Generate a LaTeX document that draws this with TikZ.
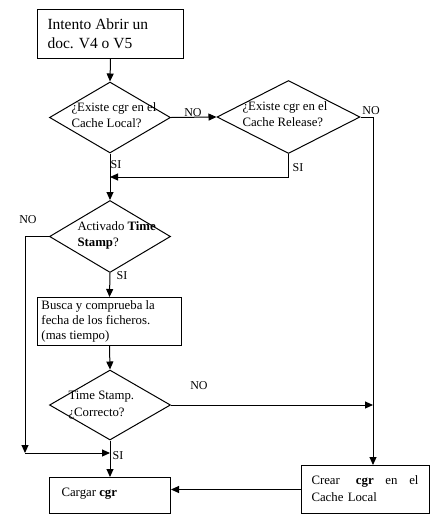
\documentclass[tikz,border=0pt]{standalone}
\usepackage{fontspec}
\setmainfont{Liberation Serif}
\usetikzlibrary{shapes.geometric,arrows.meta}
\begin{document}
\begin{tikzpicture}[x=1pt,y=-1pt,line width=1pt,
  box/.style={draw,rectangle,inner sep=0pt,anchor=north west},
  dia/.style={draw,diamond,inner sep=0pt,minimum width=121pt,minimum height=71pt},
  txt/.style={font=\fontsize{12.8}{16}\selectfont,align=left,inner sep=0pt},
  lab/.style={font=\fontsize{12}{14}\selectfont,inner sep=0pt},
  arr/.style={-{Triangle[length=8pt,width=7pt]}}]
\useasboundingbox (0,0) rectangle (438,520);
% boxes
\node[box,minimum width=146pt,minimum height=49pt] (b1) at (37,9) {};
\node[txt,font=\fontsize{15.5}{19}\selectfont,anchor=west] (t1) at (47,33.5) {Intento Abrir un\\doc. V4 o V5};
\node[dia] (d1) at (110,117.5) {};
\node[txt,anchor=west] (t2) at (71,115) {¿Existe cgr en el\\Cache Local?};
\node[dia,minimum width=143pt,minimum height=73pt] (d2) at (288.5,117) {};
\node[txt,anchor=west] (t3) at (242,114) {¿Existe cgr en el\\Cache Release?};
\node[dia,minimum width=121pt,minimum height=72pt] (d3) at (110,236.5) {};
\node[txt,anchor=west] (t4) at (77,235.5) {Activado \textbf{Time}\\\textbf{Stamp}?};
\node[box,minimum width=144pt,minimum height=48pt] (b3) at (37,297) {};
\node[txt,anchor=west,font=\fontsize{12.8}{15}\selectfont] (t5) at (41,321.5) {Busca y comprueba la\\fecha de los ficheros.\\(mas tiempo)};
\node[dia,minimum width=121pt,minimum height=70pt] (d4) at (110,405) {};
\node[txt,anchor=west,font=\fontsize{12.8}{17}\selectfont] (t6) at (68,405) {Time Stamp.\\¿Correcto?};
\node[box,minimum width=121pt,minimum height=36pt] (b4) at (49,477) {};
\node[txt,anchor=west] (t7) at (61,494) {Cargar \textbf{cgr}};
\node[box,minimum width=128pt,minimum height=48pt] (b5) at (301,465) {};
\node[txt,anchor=west,text width=107pt,font=\fontsize{12.8}{17}\selectfont] (t8) at (311,489) {Crear \hfill\textbf{cgr}\hfill en\hfill el\\Cache Local};
% coordinates
\coordinate (c1) at (373,117);
\coordinate (j1) at (110,177);
\coordinate (c2) at (25,453);
\coordinate (j2) at (110,453);
\coordinate (c3) at (373,405);
% connectors
\draw[arr] (b1.south) -- (d1.north);
\draw[arr] (d1.east) -- (d2.west);
\draw[arr] (d2.east) -- (c1) -- (c1 |- b5.north);
\draw[arr] (d2.south) |- (j1);
\draw[arr] (d1.south) -- (d3.north);
\draw[arr] (d3.west) -| (c2);
\draw[arr] (c2) -- (j2);
\draw[arr] (d3.south) -- (b3.north);
\draw[arr] (b3.south) -- (d4.north);
\draw[arr] (d4.east) -- (c3);
\draw[arr] (d4.south) -- (b4.north);
\draw[arr] (b5.west) -- (b5.west -| b4.east);
% labels
\node[lab] (l1) at (193,113) {NO};
\node[lab] (l2) at (371,111) {NO};
\node[lab] (l3) at (298,168) {SI};
\node[lab] (l4) at (116,165) {SI};
\node[lab] (l5) at (28,220) {NO};
\node[lab] (l6) at (122,276) {SI};
\node[lab] (l7) at (199,386) {NO};
\node[lab] (l8) at (118,456) {SI};
\end{tikzpicture}
\end{document}
